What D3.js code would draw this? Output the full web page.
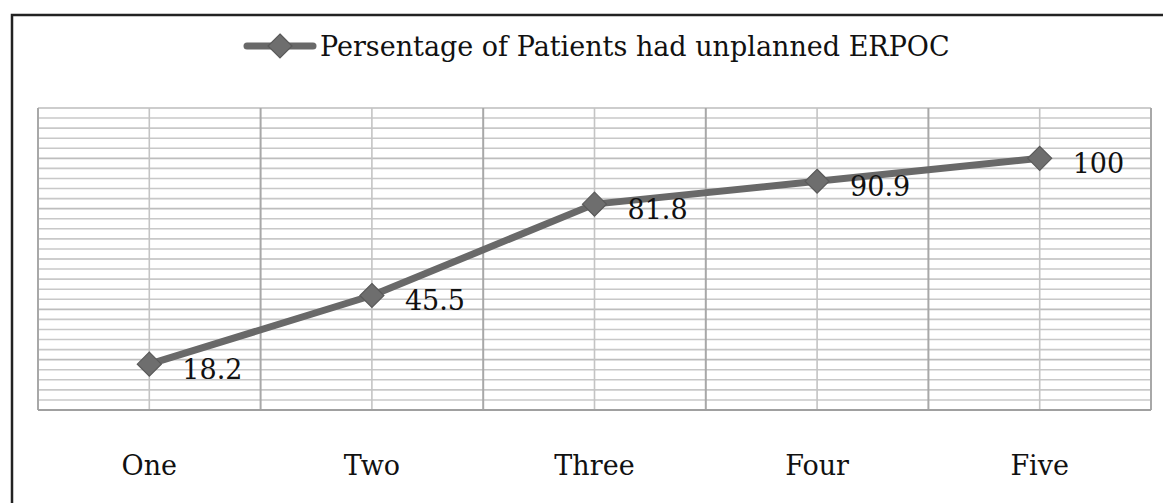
<!DOCTYPE html>
<html>
<head>
<meta charset="utf-8">
<script src="https://cdn.jsdelivr.net/npm/d3@7"></script>
<style>
  body { margin: 0; background: #fff; }
  svg text { font-family: "DejaVu Serif", serif; fill: #111; }
</style>
</head>
<body>
<div id="chart"></div>
<script>
// Data
const categories = ["One", "Two", "Three", "Four", "Five"];
const values = [18.2, 45.5, 81.8, 90.9, 100];
const seriesName = "Persentage of Patients had unplanned ERPOC";

const W = 1163, H = 503;
const margin = {top: 108, right: 12, bottom: 93, left: 38},
      width = W - margin.left - margin.right,
      height = H - margin.top - margin.bottom;

const svg = d3.select("#chart")
    .append("svg")
    .attr("width", W)
    .attr("height", H);

// outer chart border (only top and left visible)
svg.append("rect")
    .attr("x", 12).attr("y", 15)
    .attr("width", W + 20).attr("height", H + 20)
    .attr("fill", "none")
    .attr("stroke", "#222")
    .attr("stroke-width", 2.5);

const g = svg.append("g")
    .attr("transform", `translate(${margin.left},${margin.top})`);

// scales
const x = d3.scaleBand()
    .domain(categories)
    .range([0, width]);
const y = d3.scaleLinear()
    .domain([0, 120])
    .range([height, 0]);

// horizontal minor gridlines
g.append("g")
    .selectAll("line")
    .data(d3.range(0, 121, 4))
    .enter()
    .append("line")
    .attr("x1", 0).attr("x2", width)
    .attr("y1", d => y(d)).attr("y2", d => y(d))
    .attr("stroke", d => d % 20 === 0 ? "#bdbdbd" : "#c8c8c8")
    .attr("stroke-width", 1.6);

// vertical lines at category centers
g.append("g")
    .selectAll("line")
    .data(categories)
    .enter()
    .append("line")
    .attr("x1", d => x(d) + x.bandwidth() / 2)
    .attr("x2", d => x(d) + x.bandwidth() / 2)
    .attr("y1", 0).attr("y2", height)
    .attr("stroke", "#c4c4c4")
    .attr("stroke-width", 1.6);

// vertical lines at category boundaries
const bounds = categories.map(d => x(d)).concat([width]);
g.append("g")
    .selectAll("line")
    .data(bounds)
    .enter()
    .append("line")
    .attr("x1", d => d).attr("x2", d => d)
    .attr("y1", 0).attr("y2", height)
    .attr("stroke", "#a8a8a8")
    .attr("stroke-width", 2);

// bottom axis line
g.append("line")
    .attr("x1", 0).attr("x2", width)
    .attr("y1", height).attr("y2", height)
    .attr("stroke", "#a0a0a0")
    .attr("stroke-width", 2);

// category labels
g.append("g")
    .attr("transform", `translate(0,${height})`)
    .selectAll("text")
    .data(categories)
    .enter()
    .append("text")
    .attr("x", d => x(d) + x.bandwidth() / 2)
    .attr("y", 65)
    .attr("text-anchor", "middle")
    .style("font-size", "27px")
    .text(d => d);

const data = categories.map((c, i) => ({cat: c, val: values[i]}));
const cx = d => x(d.cat) + x.bandwidth() / 2;

// line
g.append("path")
    .datum(data)
    .attr("fill", "none")
    .attr("stroke", "#696969")
    .attr("stroke-width", 7)
    .attr("stroke-linejoin", "round")
    .attr("d", d3.line().x(cx).y(d => y(d.val)));

// diamond markers
const diamond = s => `M0,${-s}L${s},0L0,${s}L${-s},0Z`;
g.selectAll(".marker")
    .data(data)
    .enter()
    .append("path")
    .attr("class", "marker")
    .attr("transform", d => `translate(${cx(d)},${y(d.val)})`)
    .attr("d", diamond(12))
    .attr("fill", "#6e6e6e")
    .attr("stroke", "#5a5a5a")
    .attr("stroke-width", 1.2);

// data labels
g.selectAll(".lbl")
    .data(data)
    .enter()
    .append("text")
    .attr("class", "lbl")
    .attr("x", d => cx(d) + 33)
    .attr("y", d => y(d.val) + 15)
    .style("font-size", "27px")
    .text(d => d.val);

// legend
const leg = svg.append("g").attr("transform", "translate(247,46)");
leg.append("line")
    .attr("x1", 0).attr("x2", 66)
    .attr("stroke", "#696969")
    .attr("stroke-width", 7)
    .attr("stroke-linecap", "round");
leg.append("path")
    .attr("transform", "translate(33,0)")
    .attr("d", diamond(12))
    .attr("fill", "#6e6e6e")
    .attr("stroke", "#5a5a5a")
    .attr("stroke-width", 1.2);
leg.append("text")
    .attr("x", 73)
    .attr("y", 10)
    .style("font-size", "27px")
    .text(seriesName);
</script>
</body>
</html>
